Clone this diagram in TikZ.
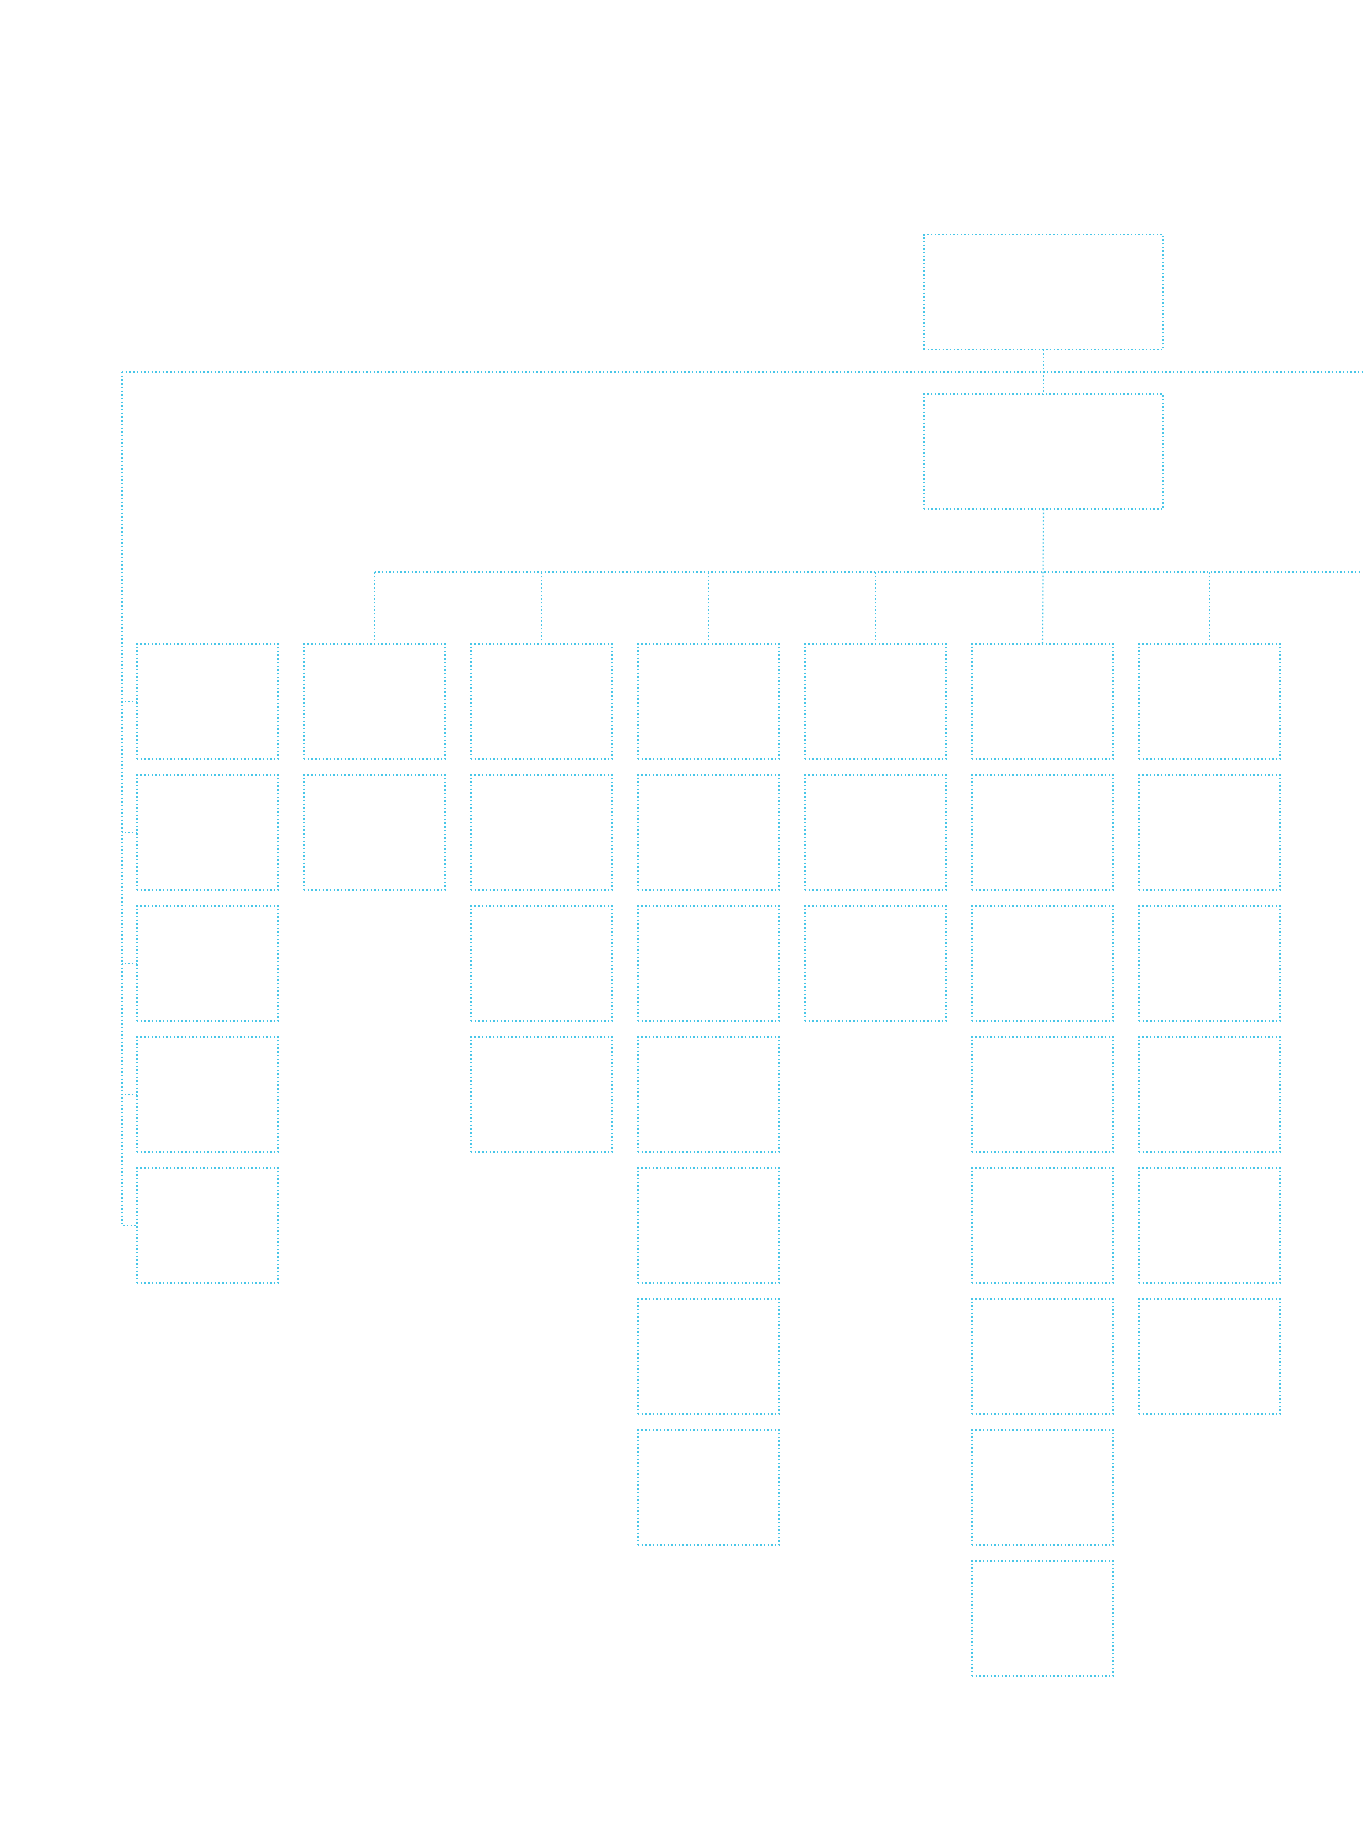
\documentclass[tikz,border=0pt]{standalone}
\definecolor{linecyan}{RGB}{72,198,232}
\begin{document}
\begin{tikzpicture}[x=1pt,y=-1pt,
  dotline/.style={draw=linecyan,line width=1.1pt,dash pattern=on 1.4pt off 2.3pt},
  bigbox/.style={dotline,minimum width=239pt,minimum height=115pt,inner sep=0pt,outer sep=0pt},
  cellbox/.style={dotline,minimum width=141pt,minimum height=115pt,inner sep=0pt,outer sep=0pt}]
\useasboundingbox (0,0) rectangle (1362,1838);
\node[bigbox] (top) at (1043.5,292) {};
\node[bigbox] (sec) at (1043.5,451.5) {};
\coordinate (L1L) at (122,372);
\coordinate (L1R) at (1362,372);
\coordinate (L2R) at (1362,572);
% columns: index and number of boxes
\foreach \i/\n in {0/5,1/2,2/4,3/7,4/3,5/8,6/6}{
  \foreach \j in {1,...,\n}{
    \node[cellbox] (b\i-\j) at ({207.5+167*\i},{701.5+131*(\j-1)}) {};
  }
}
% connectors
\draw[dotline] (top.south) -- (sec.north);
\draw[dotline] (L1L) -- (L1R);
\draw[dotline] (L1L) |- (b0-5.west);
\foreach \j in {1,...,4}{
  \draw[dotline] (b0-\j.west) -- (b0-\j.west -| L1L);
}
\draw[dotline] (b1-1.north |- L2R) -- (L2R);
\draw[dotline] (sec.south) -- (b5-1.north);
\foreach \i in {1,2,3,4,6}{
  \draw[dotline] (b\i-1.north) -- (b\i-1.north |- L2R);
}
\end{tikzpicture}
\end{document}
